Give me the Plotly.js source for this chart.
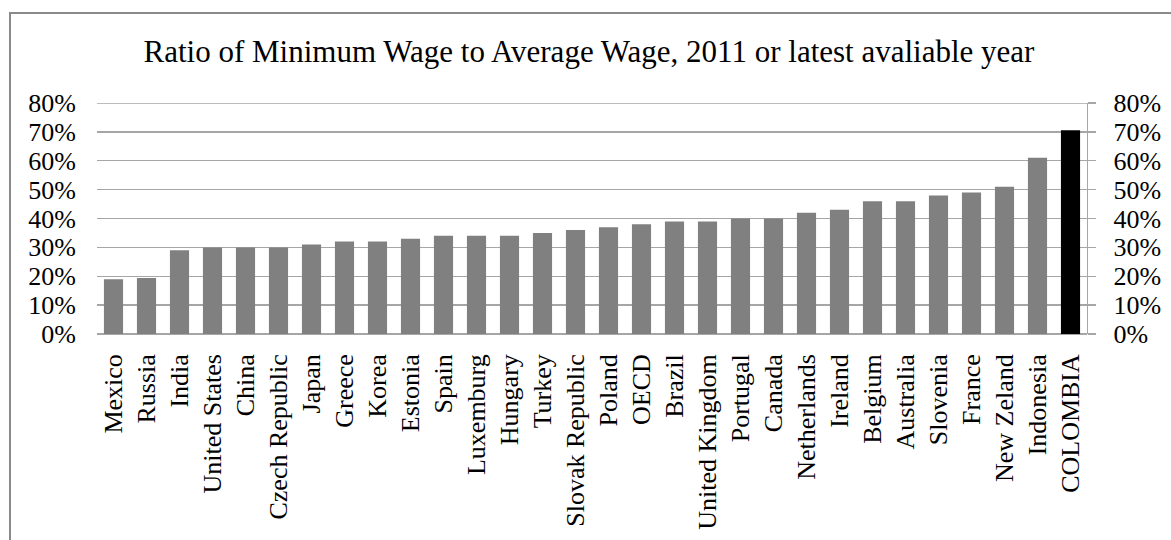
<!DOCTYPE html>
<html>
<head>
<meta charset="utf-8">
<script src="https://cdn.plot.ly/plotly-3.0.1.min.js"></script>
<style>
  html, body { margin: 0; padding: 0; background: #fff; }
  #wrap { position: relative; width: 1171px; height: 540px; overflow: hidden; }
  #chart { position: absolute; left: 0; top: 0; width: 1171px; height: 540px; }
  #frame { position: absolute; left: 9px; top: 12px; width: 1200px; height: 600px;
           border-left: 2px solid #8a8a8a; border-top: 2px solid #8a8a8a; pointer-events: none; }
</style>
</head>
<body>
<div id="wrap">
  <div id="chart"></div>
  <div id="frame"></div>
</div>
<script>
const countries = ["Mexico", "Russia", "India", "United States", "China", "Czech Republic",
  "Japan", "Greece", "Korea", "Estonia", "Spain", "Luxemburg", "Hungary", "Turkey",
  "Slovak Republic", "Poland", "OECD", "Brazil", "United Kingdom", "Portugal", "Canada",
  "Netherlands", "Ireland", "Belgium", "Australia", "Slovenia", "France", "New Zeland",
  "Indonesia", "COLOMBIA"];
const ratios = [0.19, 0.194, 0.29, 0.30, 0.30, 0.30, 0.31, 0.32, 0.32, 0.33, 0.34, 0.34, 0.34,
  0.35, 0.36, 0.37, 0.38, 0.39, 0.39, 0.40, 0.40, 0.42, 0.43, 0.46, 0.46, 0.48, 0.49, 0.51,
  0.61, 0.706];
const highlight = "COLOMBIA";
const titleText = "Ratio of Minimum Wage to Average Wage, 2011 or latest avaliable year";
const yMax = 0.8;

const colors = countries.map(c => c === highlight ? "#000000" : "#808080");
const font = "Liberation Serif, Times New Roman, serif";
const gridColor = "#a6a6a6";

const trace = {
  type: "bar",
  x: countries,
  y: ratios,
  marker: { color: colors, line: { width: 0 } },
  hoverinfo: "x+y"
};
// invisible companion trace so that the secondary (right) axis is drawn
const rightAxisTrace = {
  type: "scatter",
  mode: "markers",
  x: countries,
  y: ratios,
  yaxis: "y2",
  marker: { opacity: 0, size: 1 },
  hoverinfo: "skip"
};

const layout = {
  width: 1171, height: 540,
  margin: { l: 97, r: 84, t: 103, b: 206, pad: 0 },
  paper_bgcolor: "#ffffff", plot_bgcolor: "#ffffff",
  font: { family: font, size: 26, color: "#000" },
  title: { text: titleText, font: { family: font, size: 31, color: "#000" },
           x: 0.503, xanchor: "center", y: 0.905, yanchor: "middle" },
  bargap: 0.42,
  showlegend: false,
  xaxis: {
    type: "category",
    range: [-0.5, countries.length - 0.5],
    tickmode: "linear", dtick: 1,
    tickangle: -90,
    ticks: "", showline: false, showgrid: false, zeroline: false,
    tickfont: { family: font, size: 26, color: "#000" },
    ticklabelstandoff: 14
  },
  yaxis: {
    range: [0, yMax], dtick: 0.1, tickformat: ".0%",
    showgrid: true, gridcolor: gridColor, gridwidth: 1.3,
    zeroline: true, zerolinecolor: gridColor, zerolinewidth: 1.3,
    showline: false, ticks: "",
    tickfont: { family: font, size: 26, color: "#000" },
    ticklabelstandoff: 20
  },
  yaxis2: {
    overlaying: "y", side: "right", anchor: "x",
    range: [0, yMax], dtick: 0.1, tickformat: ".0%",
    showgrid: false, zeroline: false,
    showline: true, linecolor: gridColor, linewidth: 1.3,
    ticks: "outside", ticklen: 8, tickcolor: gridColor, tickwidth: 1.3,
    tickfont: { family: font, size: 26, color: "#000" },
    ticklabelstandoff: 12
  },
  shapes: [{
    type: "line", xref: "paper", x0: 0, x1: 1, yref: "y", y0: yMax, y1: yMax,
    line: { color: gridColor, width: 1.3 }, layer: "below"
  }]
};

Plotly.newPlot("chart", [trace, rightAxisTrace], layout, { displayModeBar: false, staticPlot: true });
</script>
</body>
</html>
